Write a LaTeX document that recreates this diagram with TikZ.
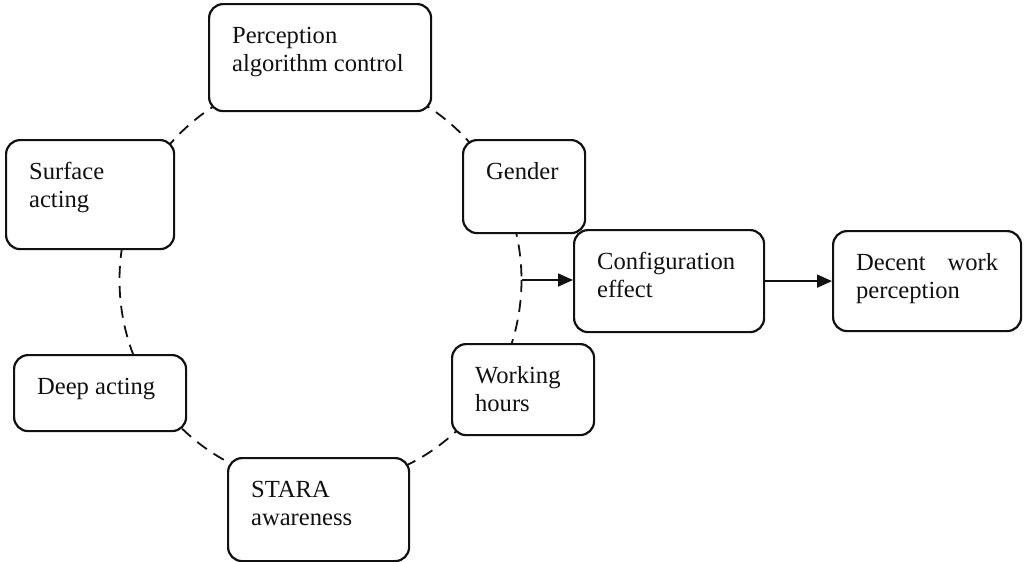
\documentclass[tikz,border=0pt]{standalone}
\usepackage{fontspec}
\setmainfont{Liberation Serif}
\usetikzlibrary{arrows.meta,positioning}
\definecolor{ink}{HTML}{111111}
\newcommand{\factortext}[3]{%
  \parbox[c][\dimexpr #2pt/2-19.5pt\relax][t]{\dimexpr #1pt/2-23pt\relax}{\raggedright\strut #3}}
\tikzset{
  factor/.style={
    rectangle,
    rounded corners=7pt,
    draw=ink,
    line width=1.1pt,
    fill=white,
    anchor=north west,
    inner xsep=11.5pt,
    inner ysep=9.75pt,
    text=ink,
    font=\fontsize{12.3}{14}\selectfont
  },
  link/.style={
    -{Triangle[length=7.5pt,width=6.5pt]},
    draw=ink,
    line width=0.9pt
  },
  ring/.style={
    draw=ink,
    line width=0.9pt,
    dash pattern=on 6pt off 4pt
  }
}
\begin{document}
\begin{tikzpicture}[x=0.5pt,y=-0.5pt]
  \useasboundingbox (0,0) rectangle (1024,562);

  % dashed ring behind the factors
  \coordinate (hub) at (320.5,280);
  \coordinate (ringE) at (521.5,280);
  \draw[ring] (hub) ellipse [x radius=201, y radius=205];

  % factors on the ring
  \node[factor] (percep) at (208,3) {\factortext{222}{107}{Perception\\algorithm control}};
  \node[factor] (surface) at (5,139) {\factortext{168}{109}{Surface\\acting}};
  \node[factor] (gender) at (462,139) {\factortext{122}{93}{Gender}};
  \node[factor] (deep) at (13,354) {\factortext{172}{76}{Deep acting}};
  \node[factor] (hours) at (451,343) {\factortext{142}{91}{Working\\hours}};
  \node[factor] (stara) at (227,457) {\factortext{181}{103}{STARA\\awareness}};

  % outcome chain
  \node[factor] (config) at (573,229) {\factortext{190}{102}{Configuration\\effect}};
  \node[factor] (decent) at (832,230) {\factortext{188}{100}{Decent\hfill work\\perception}};

  \draw[link] (ringE) -- (ringE -| config.west);
  \draw[link] (config.east) -- (config.east -| decent.west);
\end{tikzpicture}
\end{document}
